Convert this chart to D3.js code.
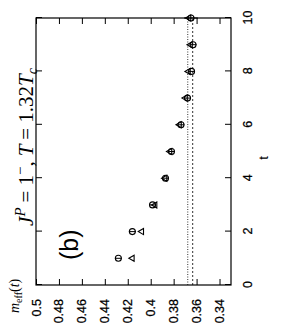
<!DOCTYPE html>
<html>
<head>
<meta charset="utf-8">
<script src="https://cdn.jsdelivr.net/npm/d3@7"></script>
<style>
  body { margin: 0; background: #fff; }
  text { fill: #000; }
</style>
</head>
<body>
<div id="chart"></div>
<script>
// data
var tVals    = [1, 2, 3, 4, 5, 6, 7, 8, 9, 10];
var mCircle  = [0.4282, 0.4160, 0.3984, 0.3871, 0.3819, 0.3736, 0.3679, 0.3644, 0.3631, 0.3649];
var errCircle = [0.003, 0.003, 0.003, 0.003, 0.003, 0.003, 0.003, 0.003, 0.003, 0.006];
var mTriangle = [0.4160, 0.4078, 0.3962, 0.3875, 0.3832, 0.3749, 0.3697, 0.3671, 0.3653, 0.3666];
var plateaus = [0.3677, 0.3634];
var mTicks = [0.5, 0.48, 0.46, 0.44, 0.42, 0.4, 0.38, 0.36, 0.34];
var tTicks = [0, 2, 4, 6, 8, 10];

var W = 284, H = 333;
var innerW = 267, innerH = 195;   // t-direction, m-direction (before rotation)

var svg = d3.select("#chart").append("svg")
    .attr("width", W)
    .attr("height", H);

// whole plot is drawn upright and then turned a quarter turn
var g = svg.append("g")
    .attr("transform", "translate(36,285) rotate(-90)");

var x = d3.scaleLinear().domain([0, 10]).range([0, innerW]);
var y = d3.scaleLinear().domain([0.5, 0.33]).range([0, innerH]);

// plateau lines
var dash = ["1,1.5", "2,2"];
g.selectAll(".plateau")
    .data(plateaus)
    .enter().append("line")
    .attr("class", "plateau")
    .attr("x1", x(0)).attr("x2", x(10))
    .attr("y1", function(d) { return y(d); })
    .attr("y2", function(d) { return y(d); })
    .attr("stroke", "#333")
    .attr("stroke-width", 1)
    .attr("stroke-dasharray", function(d, i) { return dash[i]; });

// axes, ticks pointing inward and mirrored
var tickFont = "'Liberation Sans', Arial, sans-serif";

var yAxis = d3.axisLeft(y).tickValues(mTicks).tickSize(-6).tickPadding(14)
    .tickFormat(function(d) { return d3.format("")(+d.toFixed(2)); });
var yAxisR = d3.axisRight(y).tickValues(mTicks).tickSize(-6).tickFormat("");
var xAxis = d3.axisBottom(x).tickValues(tTicks).tickSize(-6).tickPadding(12).tickFormat(d3.format("d"));
var xAxisT = d3.axisTop(x).tickValues(tTicks).tickSize(-6).tickFormat("");

[g.append("g").call(yAxis),
 g.append("g").attr("transform", "translate(" + innerW + ",0)").call(yAxisR),
 g.append("g").attr("transform", "translate(0," + innerH + ")").call(xAxis),
 g.append("g").call(xAxisT)].forEach(function(a) {
    a.select(".domain").remove();
    a.selectAll("line").attr("stroke", "#000");
    a.selectAll("text")
        .style("font-family", tickFont)
        .style("font-size", "12.5px")
        .attr("stroke", "#000").attr("stroke-width", 0.25);
});

g.append("rect")
    .attr("width", innerW).attr("height", innerH)
    .attr("fill", "none").attr("stroke", "#000").attr("stroke-width", 1.2);

// circles with error bars
var circ = g.selectAll(".circ")
    .data(tVals)
    .enter().append("g")
    .attr("class", "circ");

circ.append("line")
    .attr("x1", function(d) { return x(d); })
    .attr("x2", function(d) { return x(d); })
    .attr("y1", function(d, i) { return y(mCircle[i] - errCircle[i]); })
    .attr("y2", function(d, i) { return y(mCircle[i] + errCircle[i]); })
    .attr("stroke", "#000");

circ.append("circle")
    .attr("cx", function(d) { return x(d); })
    .attr("cy", function(d, i) { return y(mCircle[i]); })
    .attr("r", 3)
    .attr("fill", "none").attr("stroke", "#000").attr("stroke-width", 1.1);

// triangles
g.selectAll(".tri")
    .data(tVals)
    .enter().append("path")
    .attr("class", "tri")
    .attr("d", d3.symbol().type(d3.symbolTriangle).size(16))
    .attr("transform", function(d, i) { return "translate(" + x(d) + "," + y(mTriangle[i]) + ")"; })
    .attr("fill", "none").attr("stroke", "#000").attr("stroke-width", 1.1);

// labels
var serif = "'Liberation Serif', 'Times New Roman', serif";

var title = g.append("text")
    .attr("x", 138).attr("y", -3)
    .attr("text-anchor", "middle")
    .style("font-family", serif)
    .style("font-size", "21px");
title.append("tspan").style("font-style", "italic").text("J");
title.append("tspan").style("font-style", "italic").attr("dy", -8).style("font-size", "15px").text("P");
title.append("tspan").attr("dy", 8).attr("dx", 5).text("=");
title.append("tspan").attr("dx", 5).text("1");
title.append("tspan").attr("dy", -8).style("font-size", "15px").text("\u2212");
title.append("tspan").attr("dy", 8).text(",");
title.append("tspan").attr("dx", 5).style("font-style", "italic").text("T");
title.append("tspan").attr("dx", 5).text("=");
title.append("tspan").attr("dx", 5).text("1.32");
title.append("tspan").style("font-style", "italic").text("T");
title.append("tspan").style("font-style", "italic").attr("dy", 4).style("font-size", "14px").text("c");

var ylab = g.append("text")
    .attr("x", -28).attr("y", -17)
    .style("font-family", serif)
    .style("font-size", "14px");
ylab.append("tspan").style("font-style", "italic").text("m");
ylab.append("tspan").attr("dy", 3).style("font-size", "10px").text("eff");
ylab.append("tspan").attr("dy", -3).text("(");
ylab.append("tspan").style("font-style", "italic").text("t");
ylab.append("tspan").text(")");

g.append("text")
    .attr("x", 127).attr("y", innerH + 37)
    .attr("text-anchor", "middle")
    .style("font-family", tickFont)
    .style("font-size", "13px")
    .text("t");

g.append("text")
    .attr("x", 25).attr("y", 42)
    .style("font-family", tickFont)
    .style("font-size", "25px")
    .text("(b)");
</script>
</body>
</html>
